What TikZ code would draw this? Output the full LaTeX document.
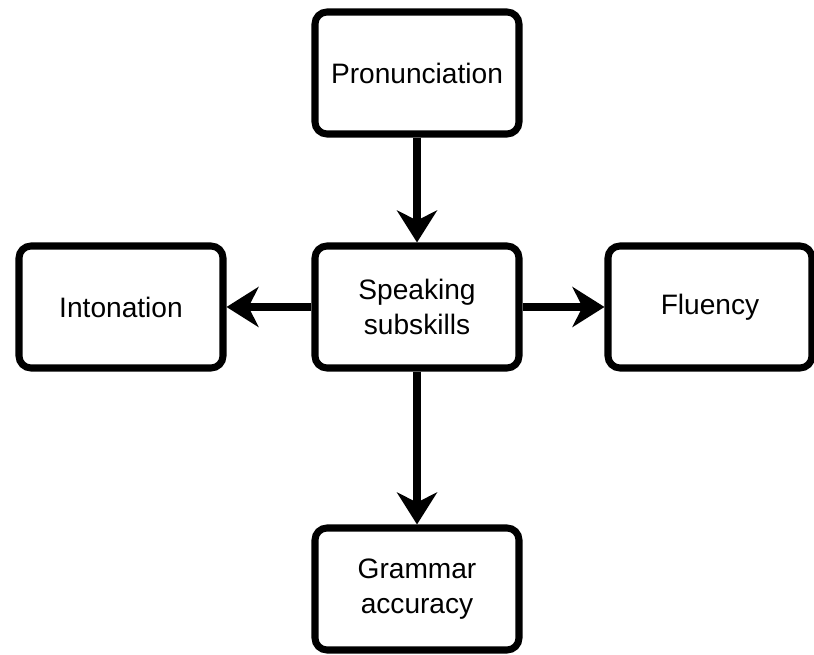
\documentclass[tikz,border=0pt]{standalone}
\usepackage{fontspec}
\setmainfont{Liberation Sans}
\usetikzlibrary{arrows.meta}

\begin{document}
\begin{tikzpicture}[
		skill/.style={draw, line width=5pt, rounded corners=0.3cm, align=center,
			minimum width=5.1cm, minimum height=3.05cm,
			font=\fontsize{20}{24.5}\selectfont},
		link/.style={line width=5pt, -{Stealth[length=0.8cm, width=1.0cm, inset=0.25cm]}}
	]
			\useasboundingbox (0,0) rectangle (20.35,16.375);
			% the four subskills round the middle box
			\node [skill] (speak) at (10.425,8.7) {Speaking\\subskills};
			\node [skill] (pron) at (10.425,14.55) {Pronunciation};
			\node [skill] (inton) at (3.025,8.7) {Intonation};
			\node [skill] (flu) at (17.75,8.7) {Fluency};
			\node [skill] (gram) at (10.425,1.65) {Grammar\\accuracy};
			\draw [link] (pron) -- (speak);
			\draw [link] (speak) -- (inton);
			\draw [link] (speak) -- (flu);
			\draw [link] (speak) -- (gram);
		\end{tikzpicture}
\end{document}
